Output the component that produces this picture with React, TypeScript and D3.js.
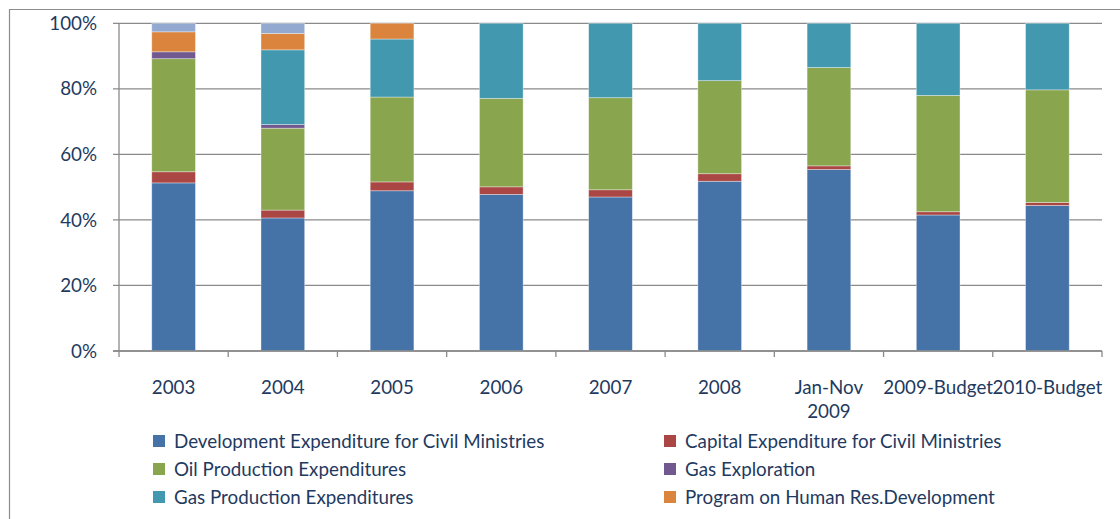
import React from "react";
import * as d3 from "d3";

const categories = ["2003", "2004", "2005", "2006", "2007", "2008", "Jan-Nov\n2009", "2009-Budget", "2010-Budget"];
const seriesNames = [
  "Development Expenditure for Civil Ministries",
  "Capital Expenditure for Civil Ministries",
  "Oil Production Expenditures",
  "Gas Exploration",
  "Gas Production Expenditures",
  "Program on Human Res.Development",
  "Other",
];
const devCivil = [51.3, 40.6, 48.9, 47.8, 47.0, 51.8, 55.4, 41.5, 44.4];
const capCivil = [3.4, 2.4, 2.7, 2.3, 2.2, 2.3, 1.1, 1.0, 0.9];
const oilProd = [34.5, 25.0, 25.9, 27.0, 28.1, 28.4, 30.0, 35.5, 34.4];
const gasExpl = [2.1, 1.1, 0, 0, 0, 0, 0, 0, 0];
const gasProd = [0, 22.8, 17.7, 22.9, 22.7, 17.5, 13.5, 22.0, 20.3];
const humanRes = [6.1, 5.0, 4.8, 0, 0, 0, 0, 0, 0];
const other = [2.6, 3.1, 0, 0, 0, 0, 0, 0, 0];
const yTicks = [0, 20, 40, 60, 80, 100];

const colors = ["#4572A7", "#AA4643", "#89A54E", "#71588F", "#4198AF", "#DB843D", "#93A9CF"];
const legendItems = [0, 1, 2, 3, 4, 5];

export default function App() {
  const W = 1120, H = 519;
  const left = 119, right = 1102, top = 23.3, bottom = 351;
  const font = "Lato, 'Open Sans', sans-serif";
  const fs = 18.8;
  const textColor = "#1F3A5F";
  const all = [devCivil, capCivil, oilProd, gasExpl, gasProd, humanRes, other];
  const rows = categories.map((c, i) => {
    const r: any = { cat: c };
    all.forEach((s, k) => (r["s" + k] = s[i]));
    return r;
  });
  const keys = all.map((_, k) => "s" + k);
  const stacked = d3.stack().keys(keys).offset(d3.stackOffsetExpand)(rows);
  const x = d3.scaleBand().domain(categories).range([left, right]).paddingInner(0.6).paddingOuter(0.3);
  const xb = d3.scaleBand().domain(categories).range([left, right]);
  const y = d3.scaleLinear().domain([0, 1]).range([bottom, top]);

  return (
    <svg width={W} height={H} style={{ position: "absolute", left: 0, top: 0 }}>
      <rect x={0} y={0} width={W} height={H} fill="#fff" />
      <path d={`M9.5,${H} V9.5 H${W}`} fill="none" stroke="#8c8c8c" strokeWidth={1.2} />
      {yTicks.map((t) => (
        <g key={t}>
          <line x1={left - 6} x2={right} y1={y(t / 100)} y2={y(t / 100)} stroke="#8a8a8a" strokeWidth={1.3} />
          <text x={97} y={y(t / 100)} dy="0.35em" textAnchor="end" fontFamily={font} fontSize={fs} fill={textColor}>
            {t}%
          </text>
        </g>
      ))}
      {stacked.map((layer, k) => (
        <g key={k} fill={colors[k]}>
          {layer.map((d, i) =>
            d[1] - d[0] > 0 ? (
              <rect
                key={i}
                x={x(categories[i])}
                width={x.bandwidth()}
                y={y(d[1])}
                height={y(d[0]) - y(d[1])}
                stroke="#ffffff"
                strokeOpacity={0.45}
                strokeWidth={0.8}
              />
            ) : null
          )}
        </g>
      ))}
      <line x1={left} x2={left} y1={top} y2={bottom} stroke="#8a8a8a" strokeWidth={1.3} />
      <line x1={left - 6} x2={right} y1={bottom} y2={bottom} stroke="#8a8a8a" strokeWidth={1.3} />
      {categories.concat(["__end"]).map((c, i) => {
        const xx = i < categories.length ? (xb(c) as number) : right;
        return <line key={i} x1={xx} x2={xx} y1={bottom} y2={bottom + 6} stroke="#8a8a8a" strokeWidth={1.3} />;
      })}
      {categories.map((c) => {
        const cx = (x(c) as number) + x.bandwidth() / 2;
        return (
          <text key={c} x={cx} y={387} textAnchor="middle" fontFamily={font} fontSize={fs} fill={textColor}>
            {c.split("\n").map((ln, j) => (
              <tspan key={j} x={cx} dy={j === 0 ? "0.35em" : 24}>
                {ln}
              </tspan>
            ))}
          </text>
        );
      })}
      {legendItems.map((k, idx) => {
        const col = idx % 2, row = Math.floor(idx / 2);
        const lx = col === 0 ? 153 : 664;
        const ly = 441 + row * 28;
        return (
          <g key={k}>
            <rect x={lx} y={ly - 6} width={12} height={12} fill={colors[k]} />
            <text x={lx + 21} y={ly} dy="0.35em" fontFamily={font} fontSize={fs} fill={textColor}>
              {seriesNames[k]}
            </text>
          </g>
        );
      })}
    </svg>
  );
}
